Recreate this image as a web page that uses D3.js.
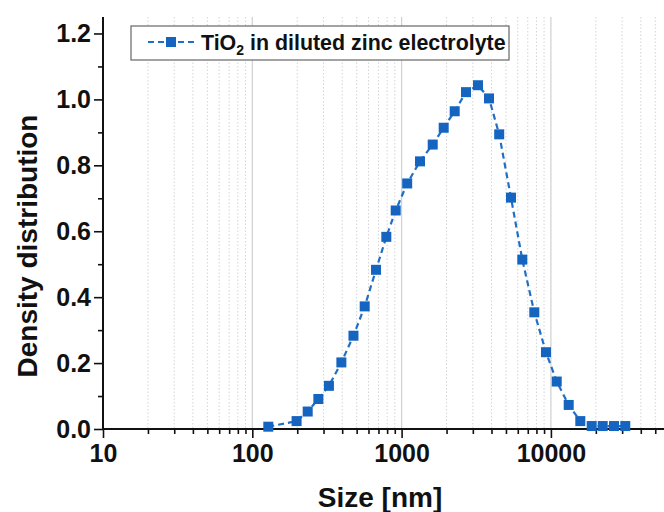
<!DOCTYPE html>
<html>
<head>
<meta charset="utf-8">
<script src="https://cdn.jsdelivr.net/npm/d3@7"></script>
<style>
  body { margin: 0; background: #fff; }
  text { font-family: "Liberation Sans", Arial, sans-serif; font-weight: bold; fill: #111; }
</style>
</head>
<body>
<script>
// particle size distribution
var sizes = [128, 198, 235, 277, 326, 395, 476, 566, 674, 790, 913, 1090, 1328, 1616, 1914,
	2268, 2700, 3249, 3850, 4505, 5403, 6433, 7742, 9270, 10940, 13160, 15740, 18760, 22230, 26460, 31490];
var density = [0.007, 0.024, 0.053, 0.091, 0.131, 0.202, 0.283, 0.372, 0.483, 0.583, 0.663, 0.745, 0.812, 0.863, 0.914,
	0.964, 1.022, 1.043, 1.003, 0.894, 0.702, 0.514, 0.354, 0.233, 0.144, 0.073, 0.024, 0.009, 0.009, 0.009, 0.009];
var xMajor = [10, 100, 1000, 10000];
var yMajor = [0, 0.2, 0.4, 0.6, 0.8, 1.0, 1.2];
var yMinor = [0.1, 0.3, 0.5, 0.7, 0.9, 1.1];

var width = 664,
	height = 512;
var blue = "#1565c0";

var svg = d3.select("body").append("svg")
	.attr("width", width)
	.attr("height", height);

var x = d3.scaleLog().domain([10, 60000]).range([103, 103 + Math.log10(6000) * 149.3]);
var y = d3.scaleLinear().domain([0, 1.25]).range([429, 17]);

// minor x positions 2..9 per decade
var xMinor = [];
xMajor.forEach(function(d) {
	for (var k = 2; k <= 9; k++) if (d * k < 60000) xMinor.push(d * k);
});

// grid
svg.append("g").selectAll("line")
	.data(xMinor)
	.enter().append("line")
	.attr("x1", function(d) { return x(d); })
	.attr("x2", function(d) { return x(d); })
	.attr("y1", y(1.25))
	.attr("y2", y(0))
	.attr("stroke", "#d4d4d4")
	.attr("stroke-width", 1)
	.attr("stroke-dasharray", "1.5,2");
svg.append("g").selectAll("line")
	.data(xMajor.slice(1))
	.enter().append("line")
	.attr("x1", function(d) { return x(d); })
	.attr("x2", function(d) { return x(d); })
	.attr("y1", y(1.25))
	.attr("y2", y(0))
	.attr("stroke", "#d0d0d0")
	.attr("stroke-width", 1.2);

// axes
var xAxis = svg.append("g")
	.attr("transform", "translate(0," + y(0) + ")")
	.call(d3.axisBottom(x).tickValues(xMajor).tickSize(9).tickPadding(6)
		.tickFormat(function(d) { return d; }));
svg.append("g")
	.attr("transform", "translate(0," + y(0) + ")")
	.call(d3.axisBottom(x).tickValues(xMinor).tickSize(5).tickFormat(""))
	.select(".domain").remove();

var yAxis = svg.append("g")
	.attr("transform", "translate(" + x(10) + ",0)")
	.call(d3.axisLeft(y).tickValues(yMajor).tickSize(9).tickPadding(3)
		.tickFormat(d3.format(".1f")));
svg.append("g")
	.attr("transform", "translate(" + x(10) + ",0)")
	.call(d3.axisLeft(y).tickValues(yMinor).tickSize(5).tickFormat(""))
	.select(".domain").remove();

svg.selectAll(".domain").attr("stroke", "#111").attr("stroke-width", 2).attr("d", null);
xAxis.select(".domain").attr("d", "M" + x(10) + ",0H" + width);
yAxis.select(".domain").attr("d", "M0," + y(1.25) + "V" + (y(0) + 1));
svg.selectAll(".tick line").attr("stroke", "#111").attr("stroke-width", 1.6);
svg.selectAll(".tick text").style("font-size", "25px").attr("fill", "#111");

// axis titles
svg.append("text")
	.attr("x", 380)
	.attr("y", 507)
	.attr("text-anchor", "middle")
	.style("font-size", "28px")
	.text("Size [nm]");
svg.append("text")
	.attr("transform", "translate(37,246) rotate(-90)")
	.attr("text-anchor", "middle")
	.style("font-size", "28px")
	.text("Density distribution");

// data
var line = d3.line()
	.x(function(d, i) { return x(sizes[i]); })
	.y(function(d) { return y(d); });
svg.append("path")
	.datum(density)
	.attr("d", line)
	.attr("fill", "none")
	.attr("stroke", "#1f6fc6")
	.attr("stroke-width", 2.2)
	.attr("stroke-dasharray", "6,4");
svg.append("g").selectAll("rect")
	.data(density)
	.enter().append("rect")
	.attr("x", function(d, i) { return x(sizes[i]) - 5; })
	.attr("y", function(d) { return y(d) - 5; })
	.attr("width", 10)
	.attr("height", 10)
	.attr("fill", blue);

// legend
var legend = svg.append("g");
legend.append("rect")
	.attr("x", 131).attr("y", 26)
	.attr("width", 378).attr("height", 34)
	.attr("fill", "#fff")
	.attr("stroke", "#666")
	.attr("stroke-width", 1.2);
legend.append("line")
	.attr("x1", 148).attr("x2", 195)
	.attr("y1", 42).attr("y2", 42)
	.attr("stroke", "#1f6fc6")
	.attr("stroke-width", 2.2)
	.attr("stroke-dasharray", "6,4");
legend.append("rect")
	.attr("x", 166).attr("y", 37)
	.attr("width", 10).attr("height", 10)
	.attr("fill", blue);
var lt = legend.append("text")
	.attr("x", 201).attr("y", 50)
	.style("font-size", "21.4px");
lt.append("tspan").text("TiO");
lt.append("tspan").attr("dy", 5).style("font-size", "14px").text("2");
lt.append("tspan").attr("dy", -5).text(" in diluted zinc electrolyte");
</script>
</body>
</html>
